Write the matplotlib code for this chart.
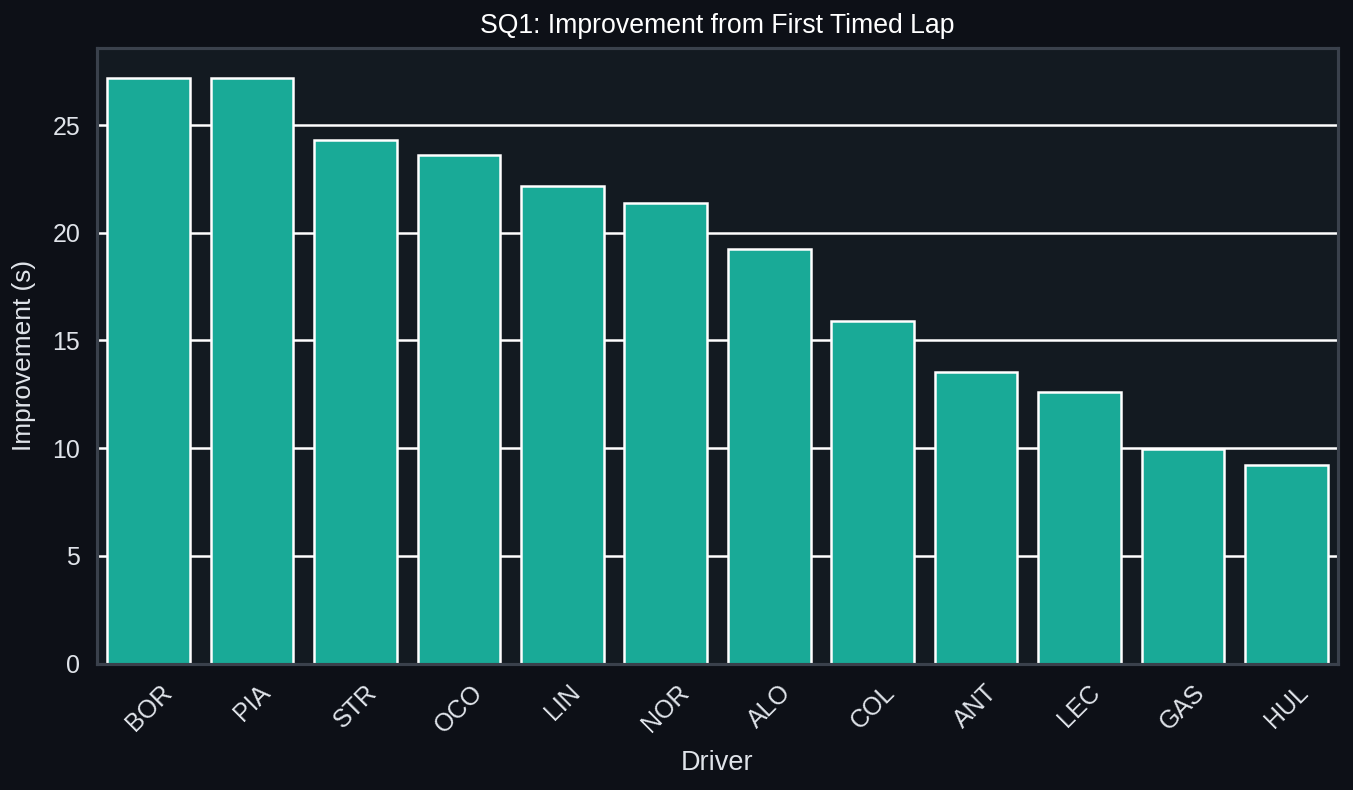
import matplotlib
matplotlib.use("Agg")
import matplotlib.pyplot as plt
import numpy as np

drivers = ["BOR", "PIA", "STR", "OCO", "LIN", "NOR", "ALO", "COL", "ANT", "LEC", "GAS", "HUL"]
improvement = [27.18, 27.18, 24.3, 23.62, 22.17, 21.37, 19.24, 15.9, 13.55, 12.6, 9.96, 9.2]

fig_bg = "#0d1017"
ax_bg = "#131a21"
bar_color = "#19aa97"
text_color = "#e0e4ea"
spine_color = "#3a414c"

plt.rcParams["font.family"] = ["Liberation Sans", "DejaVu Sans"]

fig = plt.figure(figsize=(1353 / 150, 790 / 150), dpi=150, facecolor=fig_bg)
ax = fig.add_axes([97 / 1353, 1 - 663.5 / 790, (1338 - 97) / 1353, (663.5 - 47.5) / 790])
ax.set_facecolor(ax_bg)

x = np.arange(len(drivers))
ax.bar(x, improvement, width=0.8, color=bar_color, edgecolor="white", linewidth=1.2, zorder=2)

ax.set_xlim(-0.5, len(drivers) - 0.5)
ax.set_ylim(0, 28.6)
ax.set_yticks([0, 5, 10, 15, 20, 25])
ax.set_xticks(x)
ax.set_xticklabels(drivers, rotation=45, ha="center")
ax.yaxis.grid(True, color="white", linewidth=1.2, zorder=1)
ax.xaxis.grid(False)
ax.set_axisbelow(True)
ax.tick_params(axis="both", colors=text_color, labelsize=12, length=0, pad=8)

for s in ax.spines.values():
    s.set_color(spine_color)
    s.set_linewidth(1.5)

ax.set_title("SQ1: Improvement from First Timed Lap", color="white", fontsize=12.8, pad=7)
ax.set_xlabel("Driver", color=text_color, fontsize=13, labelpad=6)
ax.set_ylabel("Improvement (s)", color=text_color, fontsize=12.6, labelpad=8)

fig.savefig("out.png", dpi=150, facecolor=fig_bg)
